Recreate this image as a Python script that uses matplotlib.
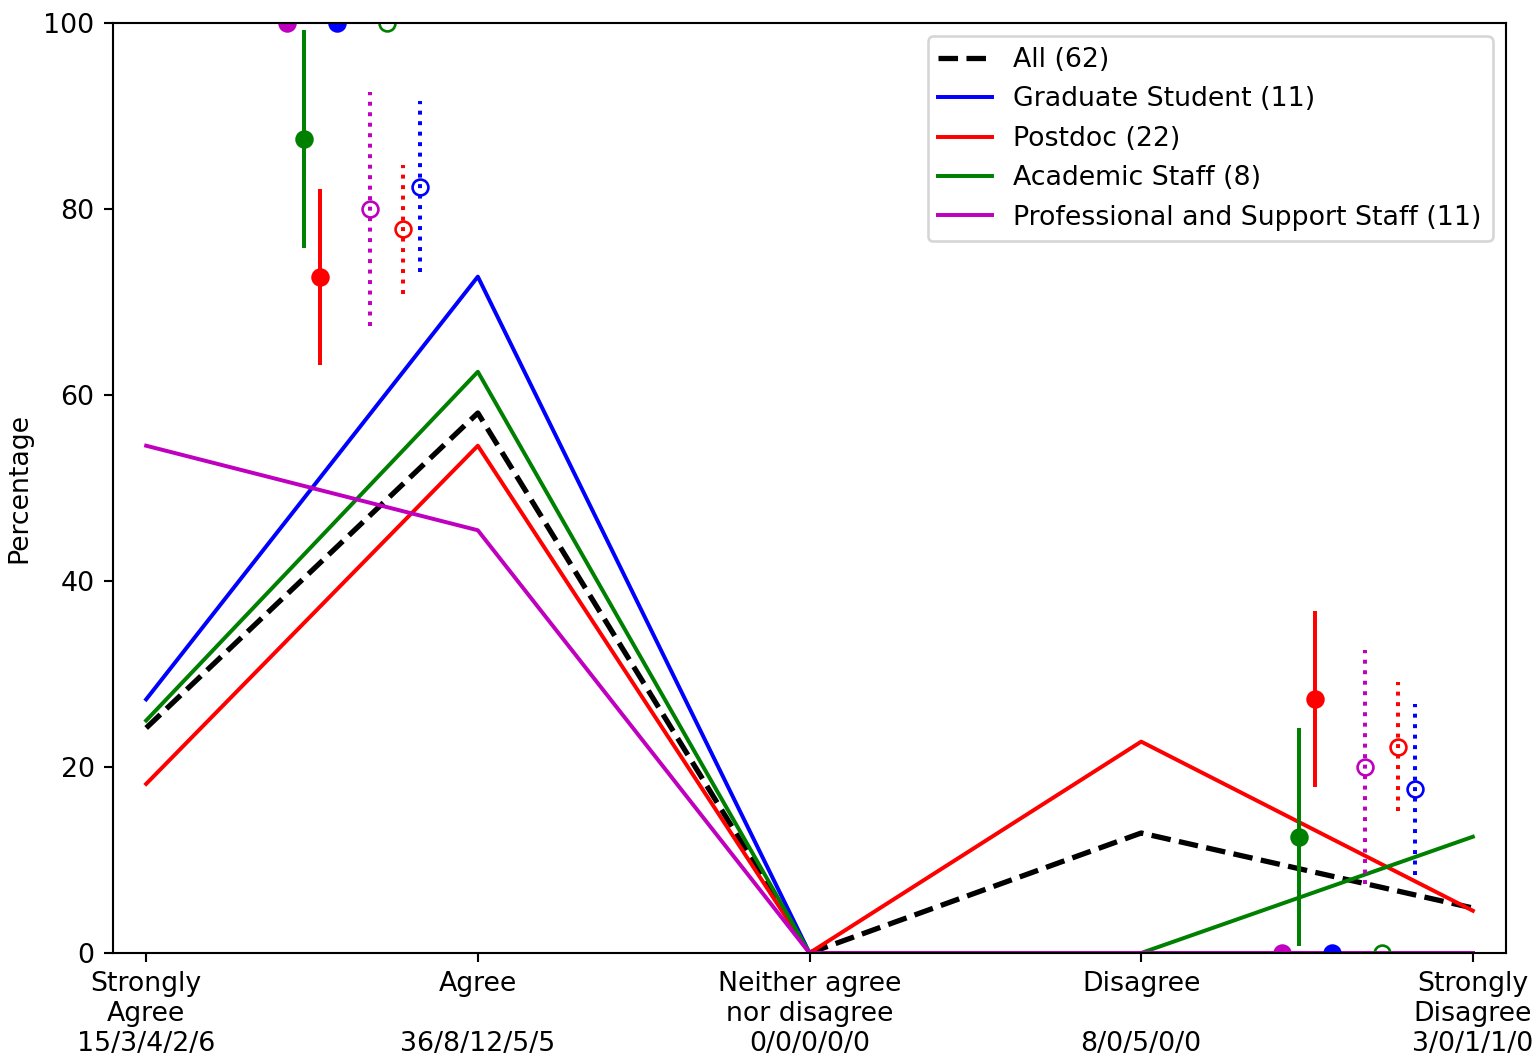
import matplotlib
matplotlib.use("Agg")
import matplotlib.pyplot as plt
import numpy as np

plt.rcParams["font.size"] = 10.15

# answer categories and counts (All / Grad / Postdoc / Academic / Professional)
categories = ["Strongly\nAgree", "Agree", "Neither agree\nnor disagree", "Disagree", "Strongly\nDisagree"]
counts_all = [15, 36, 0, 8, 3]
counts_grad = [3, 8, 0, 0, 0]
counts_postdoc = [4, 12, 0, 5, 1]
counts_academic = [2, 5, 0, 0, 1]
counts_prof = [6, 5, 0, 0, 0]

# summary points (order: Professional, Academic, Postdoc, Graduate)
summary_colors = ["m", "g", "r", "b"]
agree_group = [100.0, 87.5, 72.7, 100.0]
agree_group_err = [0.0, 11.7, 9.5, 0.0]
agree_ref = [80.0, 100.0, 77.8, 82.4]
agree_ref_err = [12.6, 0.0, 6.9, 9.2]
disagree_group = [0.0, 12.5, 27.3, 0.0]
disagree_group_err = [0.0, 11.7, 9.5, 0.0]
disagree_ref = [20.0, 0.0, 22.2, 17.6]
disagree_ref_err = [12.6, 0.0, 6.9, 9.2]

groups = [
    ("All", counts_all, "k", "--", 2.0),
    ("Graduate Student", counts_grad, "b", "-", 1.5),
    ("Postdoc", counts_postdoc, "r", "-", 1.5),
    ("Academic Staff", counts_academic, "g", "-", 1.5),
    ("Professional and Support Staff", counts_prof, "m", "-", 1.5),
]

dpi = 190
fig = plt.figure(figsize=(1535 / dpi, 1056 / dpi), dpi=dpi)
ax = fig.add_axes([113 / 1535, 1 - 953 / 1056, (1506 - 113) / 1535, (953 - 23) / 1056])

x = np.arange(len(categories))
for name, counts, color, ls, lw in groups:
    counts = np.array(counts)
    total = counts.sum()
    ax.plot(x, 100.0 * counts / total, color=color, linestyle=ls, linewidth=lw,
            label=f"{name} ({total})")

# summary markers with error bars
for base, vals, errs, refs, ref_errs in [
    (0, agree_group, agree_group_err, agree_ref, agree_ref_err),
    (3, disagree_group, disagree_group_err, disagree_ref, disagree_ref_err),
]:
    for i, c in enumerate(summary_colors):
        ax.errorbar(base + 0.425 + 0.05 * i, vals[i], yerr=errs[i], fmt="o", color=c,
                    elinewidth=1.5, capsize=0)
        eb = ax.errorbar(base + 0.675 + 0.05 * i, refs[i], yerr=ref_errs[i], fmt="o", color=c,
                         mfc="none", elinewidth=1.5, capsize=0)
        eb[2][0].set_linestyle(":")

tick_labels = [
    f"{cat}\n{a}/{g}/{p}/{ac}/{pr}" if "\n" in cat else f"{cat}\n\n{a}/{g}/{p}/{ac}/{pr}"
    for cat, a, g, p, ac, pr in zip(categories, counts_all, counts_grad, counts_postdoc,
                                    counts_academic, counts_prof)
]
ax.set_xticks(x)
ax.set_xticklabels(tick_labels)
ax.set_xlim(-0.1, 4.1)
ax.set_ylim(0, 100)
ax.set_ylabel("Percentage")
ax.legend(loc="upper right")

fig.savefig("out.png", dpi=dpi)
